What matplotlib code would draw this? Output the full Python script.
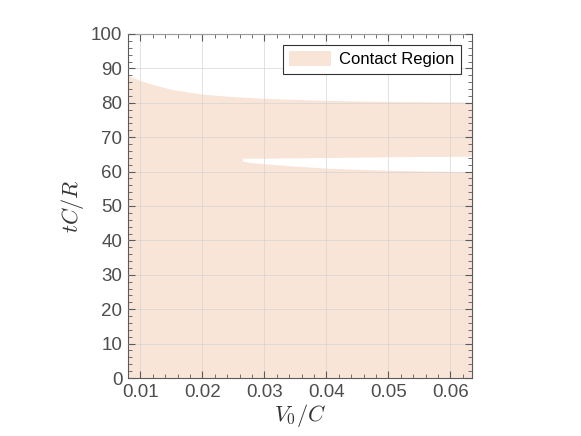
import numpy as np
import matplotlib
matplotlib.use("Agg")
import matplotlib.pyplot as plt
from matplotlib.ticker import MultipleLocator

plt.rcParams['font.family'] = ['Liberation Sans', 'DejaVu Sans']
plt.rcParams['mathtext.fontset'] = 'cm'

# upper edge of the contact region
v_upper = [0.008, 0.009, 0.010, 0.012, 0.015, 0.020, 0.025, 0.030, 0.035, 0.040, 0.050, 0.0635]
t_upper = [88.0, 87.2, 86.5, 85.3, 83.9, 82.5, 81.8, 81.3, 81.0, 80.7, 80.4, 80.2]

# white gap (no contact) inside the region
v_gap = [0.0265, 0.028, 0.030, 0.035, 0.040, 0.045, 0.050, 0.055, 0.060, 0.0635]
t_gap_top = [63.9, 63.9, 63.9, 64.0, 64.1, 64.2, 64.3, 64.4, 64.4, 64.5]
t_gap_bot = [63.0, 62.6, 62.3, 61.6, 61.0, 60.7, 60.4, 60.2, 60.1, 60.0]

fill_col = '#f9e5d8'
axis_col = '#5a5a5a'
text_col = '#4d4d4d'

fig = plt.figure(figsize=(5.81, 4.36), dpi=100)
ax = fig.add_axes([128/581, 58/436, 344/581, 344/436])

ax.fill_between(v_upper, 0, t_upper, color=fill_col, lw=0, label='Contact Region')
ax.fill_between(v_gap, t_gap_bot, t_gap_top, color='white', lw=0)

ax.set_xlim(0.008, 0.0635)
ax.set_ylim(0, 100)
ax.xaxis.set_major_locator(MultipleLocator(0.01))
ax.xaxis.set_minor_locator(MultipleLocator(0.002))
ax.yaxis.set_major_locator(MultipleLocator(10))
ax.yaxis.set_minor_locator(MultipleLocator(2))
ax.xaxis.set_major_formatter(plt.FuncFormatter(lambda v, p: f'{v:.2f}'))

ax.tick_params(which='both', direction='in', top=True, right=True,
               colors=axis_col, labelcolor=text_col, labelsize=13.5)
ax.tick_params(which='major', length=5, pad=4)
ax.tick_params(which='minor', length=3)
for s in ax.spines.values():
    s.set_color(axis_col)
    s.set_linewidth(0.8)

ax.grid(True, which='major', color='#cfcfcf', lw=0.6, alpha=0.7)
ax.set_axisbelow(False)

ax.set_xlabel('$V_0/C$', fontsize=16, color='#333333', labelpad=1)
ax.set_ylabel('$tC/R$', fontsize=16, color='#333333', labelpad=4)

leg = ax.legend(loc='upper right', fontsize=12, fancybox=False, framealpha=1,
                edgecolor='#333333', borderaxespad=0.65, handlelength=2.5,
                handleheight=0.95, handletextpad=0.5, borderpad=0.4)
leg.get_frame().set_linewidth(0.8)
for t in leg.get_texts():
    t.set_color('black')

fig.savefig('out.png', dpi=100)
